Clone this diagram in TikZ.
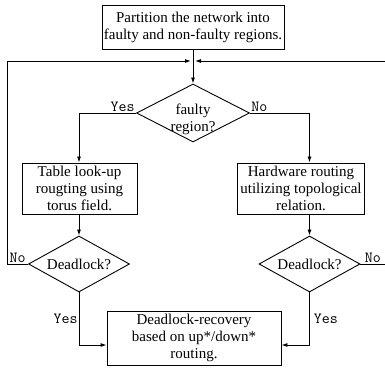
\documentclass[tikz,border=0pt]{standalone}
\usepackage{fontspec}
\setmainfont{Liberation Serif}
\usetikzlibrary{shapes.geometric,arrows.meta}

\begin{document}
\begin{tikzpicture}[x=1pt, y=-1pt, line width=0.9pt, >={Latex[length=6pt,width=4pt]},
  font=\fontsize{15}{17}\selectfont]
\tikzstyle{box} = [draw, align=center, inner sep=0pt]
\tikzstyle{decision} = [draw, diamond, inner sep=0pt]
\tikzstyle{answer} = [font=\fontsize{15.5}{17}\selectfont\ttfamily, inner sep=1pt]
\useasboundingbox (0,0) rectangle (385,371);

\node[box, minimum width=182, minimum height=44] (part) at (193,27)
  {Partition the network into\\faulty and non-faulty regions.};
\coordinate (m) at (193,61);
\node[decision, minimum width=113, minimum height=58,
  label={[align=center, yshift=-6pt]center:faulty\\region?}] (q1) at (193,113) {};

\node[box, minimum width=115, minimum height=51] (tbl) at (79.5,188.5)
  {Table look-up\\rougting using\\torus field.};
\node[box, minimum width=127, minimum height=51] (hw) at (301,188.5)
  {Hardware routing\\utilizing topological\\relation.};

\node[decision, minimum width=101, minimum height=56,
  label={center:Deadlock?}] (dl) at (79,264) {};
\node[decision, minimum width=101, minimum height=56,
  label={center:Deadlock?}] (dr) at (309.5,264) {};

\node[box, minimum width=174, minimum height=54] (rec) at (194,338)
  {Deadlock-recovery\\based on up*/down*\\routing.};

% loop corners
\coordinate (ll) at (7,264);
\coordinate (lt) at (7,61);
\coordinate (rr) at (388,264);
\coordinate (rt) at (388,61);

\draw (part) -- (m);
\draw[->] (m) -- (q1);
\draw[->] (q1.west) node[answer, anchor=south east] {Yes} -| (tbl.north -| dl);
\draw[->] (q1.east) node[answer, anchor=south west] {No} -| (hw.north -| dr);
\draw[->] (tbl.south -| dl) -- (dl);
\draw[->] (hw.south -| dr) -- (dr);

\draw[->] (dl.west) -- node[answer, above] {No} (ll) -- (lt) -- ([xshift=-2pt]m);
\draw[->] (dr.east) -- node[answer, above, pos=0.45] {No} (rr) -- (rt) -- ([xshift=2pt]m);

\draw[->] (dl.south) -- node[answer, left] {Yes} (dl.south |- 0,345) -- (rec.west |- 0,345);
\draw[->] (dr.south) -- node[answer, right, xshift=3pt] {Yes} (dr.south |- 0,345) -- (rec.east |- 0,345);
\end{tikzpicture}
\end{document}
